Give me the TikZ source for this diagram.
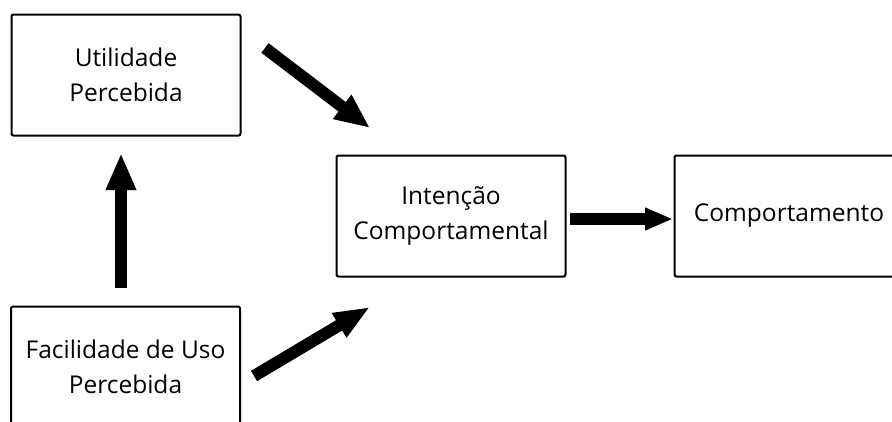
\documentclass[tikz,border=0pt]{standalone}
\usepackage{fontspec}
\setmainfont{Open Sans}
\usetikzlibrary{arrows.meta}
\tikzset{
  box/.style={draw=black, line width=2pt, rounded corners=2pt, fill=white,
    minimum width=229pt, minimum height=121pt, inner sep=0pt, align=center,
    font=\fontsize{24.5}{35}\selectfont},
  bigarrow/.style={line width=12pt, -{Triangle[length=#1]}},
}
\begin{document}
\begin{tikzpicture}[x=1pt,y=-1pt]
\clip (0,0) rectangle (892,421);
\fill[white] (0,0) rectangle (892,421);
\node[box] (util) at (126,75) {Utilidade\\Percebida};
\node[box] (facil) at (125.5,367) {Facilidade de Uso\\Percebida};
\node[box] (int) at (451,216) {Intenção\\Comportamental};
\node[box] (comp) at (789,216) {Comportamento};
\coordinate (a1s) at (265,48);  \coordinate (a1e) at (370,128);
\coordinate (a2s) at (121,288); \coordinate (a2e) at (121,153);
\coordinate (a3s) at (254,376); \coordinate (a3e) at (370,307);
\coordinate (a4s) at (570,219); \coordinate (a4e) at (673,219);
\draw[line width=12pt, -{Triangle[length=35pt,width=28pt]}] (a1s) -- (a1e);
\draw[line width=12pt, -{Triangle[length=37pt,width=28pt]}] (a2s) -- (a2e);
\draw[line width=12pt, -{Triangle[length=36pt,width=26pt]}] (a3s) -- (a3e);
\draw[line width=12pt, -{Triangle[length=28pt,width=21pt]}] (a4s) -- (a4e);
\end{tikzpicture}
\end{document}
